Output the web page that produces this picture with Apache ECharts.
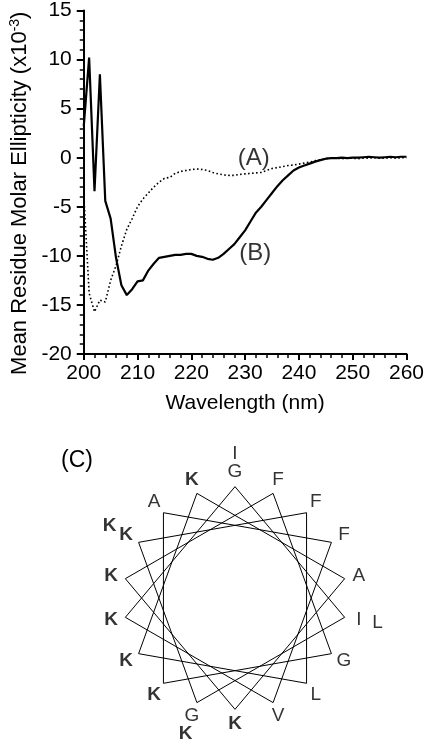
<!DOCTYPE html>
<html>
<head>
<meta charset="utf-8">
<script src="https://cdn.jsdelivr.net/npm/echarts@6/dist/echarts.min.js"></script>
<style>
html,body{margin:0;padding:0;background:#fff;}
#c{width:427px;height:744px;}
</style>
</head>
<body>
<div id="c"></div>
<script>
// ---- CD spectrum data (x10^-3 deg cm2 dmol-1) ----
var wavelengths = [200,201,202,203,204,205,206,207,208,209,210,211,212,213,214,215,216,217,218,219,220,
  221,222,223,224,225,226,227,228,229,230,231,232,233,234,235,236,237,238,239,240,
  241,242,243,244,245,246,247,248,249,250,251,252,253,254,255,256,257,258,259,260];
var curveB = [3.2,10.2,-3.4,8.5,-4.4,-6.2,-10.2,-13.0,-14.0,-13.4,-12.6,-12.5,-11.5,-10.8,-10.2,-10.1,-10.0,-9.9,-9.9,-9.8,-9.8,
  -10.0,-10.1,-10.3,-10.4,-10.2,-9.8,-9.3,-8.8,-8.1,-7.4,-6.5,-5.6,-5.0,-4.3,-3.6,-2.9,-2.3,-1.8,-1.3,-1.0,
  -0.8,-0.6,-0.4,-0.25,-0.1,-0.05,-0.05,0.0,-0.05,0.0,0.0,0.05,0.1,0.05,0.0,0.05,0.1,0.05,0.1,0.1];
var curveA = [-3.7,-13.8,-15.7,-14.5,-14.7,-12.5,-11.0,-9.0,-7.3,-6.2,-5.0,-4.2,-3.6,-3.0,-2.5,-2.1,-2.0,-1.6,-1.4,-1.3,-1.2,
  -1.15,-1.2,-1.3,-1.5,-1.65,-1.75,-1.8,-1.8,-1.7,-1.65,-1.6,-1.55,-1.5,-1.3,-1.1,-1.0,-0.9,-0.8,-0.75,-0.65,
  -0.55,-0.45,-0.3,-0.2,-0.1,-0.05,-0.05,-0.1,-0.05,-0.05,-0.1,-0.05,-0.05,0.0,-0.05,-0.05,0.0,-0.05,0.0,0.0];
var annotationLabels = ['(A)', '(B)'];
var annotationX = [231.6, 231.9];
var annotationY = [-0.1, -9.7];
var xTicks = [200, 210, 220, 230, 240, 250, 260];
var yTicks = [-20, -15, -10, -5, 0, 5, 10, 15];

// ---- Helical wheel (C) ----
var sequence = ['G','I','G','K','F','L','K','K','A','K','K','F','G','K','A','F','V','K','I','L','K','K'];
var residuesPerTurn = 18;      // positions on the wheel
var degreesPerResidue = 100;   // alpha helix rotation

var FONT = '"Liberation Sans", Arial, Helvetica, sans-serif';

function wheelAngle(i) { return (i * degreesPerResidue) % 360; }

var wheelLine = [];
for (var i = 0; i < residuesPerTurn; i++) wheelLine.push([1, wheelAngle(i)]);
wheelLine.push([1, wheelAngle(0)]);

var wheelLabels = sequence.map(function (aa, i) {
  var r = i < residuesPerTurn ? 1.13 : 1.30;
  return {
    value: [r, wheelAngle(i)],
    name: aa,
    label: { fontWeight: aa === 'K' ? 'bold' : 'normal' }
  };
});

var dataA = wavelengths.map(function (w, i) { return [w, curveA[i]]; });
var dataB = wavelengths.map(function (w, i) { return [w, curveB[i]]; });
var annData = annotationLabels.map(function (t, i) { return { value: [annotationX[i], annotationY[i]], name: t }; });

var chart = echarts.init(document.getElementById('c'), null, { renderer: 'canvas' });
chart.setOption({
  backgroundColor: '#fff',
  animation: false,
  textStyle: { fontFamily: FONT },
  title: {
    text: '(C)', left: 56, top: 444,
    textStyle: { fontFamily: FONT, fontSize: 23, fontWeight: 'normal', color: '#000' }
  },
  grid: { left: 68, right: 15, top: 10, height: 344, containLabel: false },
  xAxis: {
    type: 'value', min: xTicks[0], max: xTicks[xTicks.length - 1], interval: 10,
    name: 'Wavelength (nm)', nameLocation: 'middle', nameGap: 39,
    nameTextStyle: { fontFamily: FONT, fontSize: 21, color: '#000' },
    axisLine: { onZero: false, lineStyle: { color: '#000', width: 2 } },
    axisTick: { show: true, length: 6, lineStyle: { color: '#000', width: 2 } },
    minorTick: { show: true, splitNumber: 5, length: 4, lineStyle: { color: '#000', width: 1.5 } },
    axisLabel: { fontFamily: FONT, fontSize: 21, color: '#000', margin: 9 },
    splitLine: { show: false }
  },
  yAxis: {
    type: 'value', min: yTicks[0], max: yTicks[yTicks.length - 1], interval: 5,
    name: 'Mean Residue Molar Ellipticity (x10{sup|-3})', nameLocation: 'middle', nameGap: 43,
    nameTextStyle: {
      fontFamily: FONT, fontSize: 22, color: '#000', padding: [0, 22, 0, 0],
      rich: { sup: { fontFamily: FONT, fontSize: 14, color: '#000', verticalAlign: 'top', padding: [0, 0, 9, 0] } }
    },
    axisLine: { onZero: false, lineStyle: { color: '#000', width: 2 } },
    axisTick: { show: true, length: 7, lineStyle: { color: '#000', width: 2 } },
    minorTick: { show: true, splitNumber: 5, length: 4, lineStyle: { color: '#000', width: 1.5 } },
    axisLabel: { fontFamily: FONT, fontSize: 21, color: '#000', margin: 12 },
    splitLine: { show: false }
  },
  polar: { center: [235, 598], radius: 167 },
  angleAxis: { type: 'value', min: 0, max: 360, startAngle: 90, clockwise: true, show: false },
  radiusAxis: { type: 'value', min: 0, max: 1.5, show: false },
  series: [
    {
      name: 'A', type: 'line', data: dataA, symbol: 'none', z: 3,
      lineStyle: { color: '#000', width: 1.6, type: [1.6, 2.4] }
    },
    {
      name: 'B', type: 'line', data: dataB, symbol: 'none', z: 4,
      lineStyle: { color: '#000', width: 2.2 }
    },
    {
      name: 'labels', type: 'scatter', data: annData, symbolSize: 1,
      itemStyle: { color: 'rgba(0,0,0,0)' },
      label: { show: true, position: 'inside', formatter: '{b}', fontFamily: FONT, fontSize: 24, color: '#000' }
    },
    {
      name: 'wheel', type: 'line', coordinateSystem: 'polar', data: wheelLine,
      symbol: 'none', lineStyle: { color: '#000', width: 1 }, silent: true
    },
    {
      name: 'residues', type: 'scatter', coordinateSystem: 'polar', data: wheelLabels,
      symbolSize: 1, itemStyle: { color: 'rgba(0,0,0,0)' },
      label: { show: true, position: 'inside', formatter: '{b}', fontFamily: FONT, fontSize: 19, color: '#000' }
    }
  ]
});
</script>
</body>
</html>
